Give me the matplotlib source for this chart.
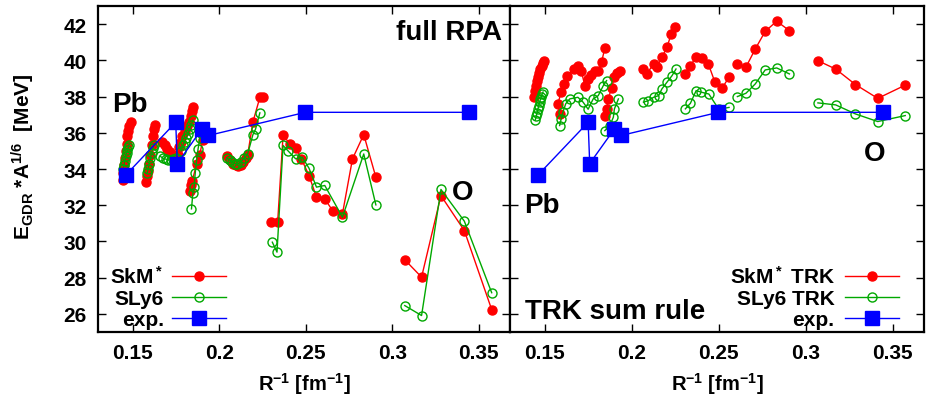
import numpy as np
import matplotlib
matplotlib.use("Agg")
import matplotlib.pyplot as plt

plt.rcParams['font.family'] = ['Liberation Sans', 'DejaVu Sans']
plt.rcParams['font.weight'] = 'bold'
plt.rcParams['mathtext.fontset'] = 'custom'
plt.rcParams['mathtext.rm'] = 'Liberation Sans:bold'
plt.rcParams['mathtext.it'] = 'Liberation Sans:bold'
plt.rcParams['mathtext.bf'] = 'Liberation Sans:bold'

# ---- full RPA (left panel), one sub-list per isotope chain
skm_rpa_x = [
    [0.1443, 0.1447, 0.1451, 0.1455, 0.1460, 0.1465, 0.1470, 0.1476, 0.1482, 0.1488],
    [0.1580, 0.1585, 0.1590, 0.1597, 0.1603, 0.1610, 0.1617, 0.1624, 0.1630],
    [0.1670, 0.1685, 0.1700, 0.1715, 0.1730, 0.1745, 0.1760],
    [0.1770, 0.1778, 0.1788, 0.1800, 0.1812, 0.1825, 0.1835, 0.1843, 0.1850],
    [0.1832, 0.1838, 0.1845, 0.1870, 0.1887, 0.1905, 0.1925],
    [0.2045, 0.2065, 0.2080, 0.2095, 0.2110, 0.2125, 0.2140, 0.2155, 0.2165, 0.2195, 0.2235, 0.2255],
    [0.2302, 0.2338, 0.2369, 0.2408, 0.2442, 0.2475, 0.2519, 0.2562, 0.2610, 0.2658, 0.2712, 0.2770, 0.2835, 0.2905],
    [0.3072, 0.3169, 0.3281, 0.3416, 0.3574],
]
skm_rpa_y = [
    [33.4, 33.8, 34.2, 34.6, 35.0, 35.4, 35.8, 36.1, 36.4, 36.6],
    [33.3, 33.6, 33.9, 34.3, 34.8, 35.3, 35.8, 36.2, 36.45],
    [35.5, 35.3, 35.1, 34.95, 34.8, 34.7, 34.8],
    [35.2, 35.5, 35.8, 36.1, 36.35, 36.6, 36.9, 37.2, 37.45],
    [32.8, 33.1, 33.35, 34.3, 34.75, 35.6, 36.05],
    [34.7, 34.5, 34.3, 34.2, 34.15, 34.2, 34.4, 34.6, 34.8, 36.6, 37.95, 37.95],
    [31.1, 31.1, 35.85, 35.4, 35.15, 34.56, 33.64, 32.44, 32.35, 31.66, 31.52, 34.56, 35.9, 33.55],
    [28.99, 28.03, 32.53, 30.6, 26.24],
]
sly6_rpa_x = [
    [0.1444, 0.1450, 0.1455, 0.1460, 0.1465, 0.1470, 0.1475, 0.1480],
    [0.1585, 0.1590, 0.1596, 0.1603, 0.1610, 0.1617, 0.1624],
    [0.1660, 0.1675, 0.1690, 0.1705, 0.1720, 0.1735, 0.1750],
    [0.1780, 0.1790, 0.1800, 0.1810, 0.1820, 0.1830, 0.1840, 0.1848],
    [0.1840, 0.1848, 0.1855, 0.1862, 0.1870, 0.1878, 0.1888, 0.1895],
    [0.2045, 0.2060, 0.2075, 0.2090, 0.2105, 0.2125, 0.2145, 0.2165, 0.2195, 0.2210, 0.2235],
    [0.2307, 0.2334, 0.2369, 0.2398, 0.2442, 0.2480, 0.2519, 0.2562, 0.2610, 0.2712, 0.2835, 0.2905],
    [0.3072, 0.3169, 0.3281, 0.3416, 0.3574],
]
sly6_rpa_y = [
    [34.0, 34.2, 34.45, 34.7, 34.9, 35.05, 35.2, 35.35],
    [33.8, 34.0, 34.3, 34.6, 34.9, 35.15, 35.35],
    [34.7, 34.6, 34.55, 34.5, 34.5, 34.55, 34.6],
    [35.0, 35.3, 35.5, 35.7, 35.95, 36.2, 36.45, 36.7],
    [31.8, 32.65, 33.0, 33.8, 34.5, 35.1, 35.7, 36.0],
    [34.6, 34.5, 34.4, 34.3, 34.25, 34.4, 34.6, 34.85, 35.9, 36.2, 37.1],
    [29.96, 29.41, 35.3, 35.0, 34.56, 34.65, 34.04, 33.0, 33.09, 31.34, 34.83, 32.02],
    [26.46, 25.91, 32.87, 31.12, 27.17],
]

# ---- TRK sum rule (right panel)
skm_trk_x = [
    [0.1436, 0.1442, 0.1448, 0.1455, 0.1462, 0.1468, 0.1475, 0.1482, 0.1490, 0.1496],
    [0.1585, 0.1575, 0.1594, 0.1612, 0.1630, 0.1665, 0.1690],
    [0.1710, 0.1730, 0.1749, 0.1768, 0.1788, 0.1807, 0.1826, 0.1845],
    [0.1845, 0.1855, 0.1865, 0.1884, 0.1900, 0.1915, 0.1932],
    [0.2067, 0.2086, 0.2125, 0.2144, 0.2173, 0.2202, 0.2227, 0.2250],
    [0.2308, 0.2337, 0.2370, 0.2405, 0.2440, 0.2478, 0.2520, 0.2559],
    [0.2607, 0.2656, 0.2710, 0.2767, 0.2833, 0.2906],
    [0.3070, 0.3172, 0.3286, 0.3414, 0.3572],
]
skm_trk_y = [
    [38.0, 38.3, 38.6, 38.85, 39.1, 39.3, 39.5, 39.7, 39.85, 39.95],
    [37.04, 37.6, 38.24, 38.7, 39.15, 39.5, 39.7],
    [39.4, 38.6, 38.97, 39.2, 39.43, 39.43, 39.9, 40.67],
    [36.9, 37.3, 37.87, 38.5, 39.07, 39.3, 39.43],
    [39.52, 39.25, 39.8, 39.62, 40.17, 40.72, 41.46, 41.82],
    [39.25, 39.7, 40.2, 40.13, 39.8, 38.79, 38.48, 39.07],
    [39.8, 39.62, 40.63, 41.6, 42.16, 41.64],
    [39.98, 39.52, 38.66, 37.9, 38.63],
]
sly6_trk_x = [
    [0.1445, 0.1450, 0.1455, 0.1460, 0.1465, 0.1470, 0.1475, 0.1480, 0.1485, 0.1490],
    [0.1585, 0.1594, 0.1604, 0.1620, 0.1643, 0.1690, 0.1720, 0.1749, 0.1778, 0.1807, 0.1836, 0.1855],
    [0.1845, 0.1874, 0.1894, 0.1900, 0.1923],
    [0.2067, 0.2096, 0.2125, 0.2154, 0.2173, 0.2202, 0.2231, 0.2254],
    [0.2308, 0.2337, 0.2370, 0.2400, 0.2443, 0.2500, 0.2559],
    [0.2607, 0.2656, 0.2710, 0.2767, 0.2833, 0.2906],
    [0.3070, 0.3172, 0.3286, 0.3414, 0.3572],
]
sly6_trk_y = [
    [36.7, 36.9, 37.1, 37.3, 37.5, 37.7, 37.85, 38.0, 38.15, 38.25],
    [36.4, 36.77, 37.13, 37.6, 37.87, 37.96, 37.69, 37.3, 37.87, 38.05, 38.6, 38.88],
    [36.12, 36.4, 36.86, 37.32, 37.87],
    [37.69, 37.78, 37.96, 38.05, 38.42, 38.79, 39.15, 39.52],
    [37.32, 37.63, 38.33, 38.24, 38.14, 37.3, 37.4],
    [38.0, 38.18, 38.7, 39.47, 39.58, 39.25],
    [37.65, 37.54, 37.04, 36.62, 36.95],
]

# ---- experiment
exp_x = [0.1463, 0.1749, 0.1758, 0.1899, 0.1938, 0.2498, 0.3442]
exp_y = [33.69, 36.58, 34.30, 36.20, 35.85, 37.13, 37.13]


def join(chains):
    out = []
    for c in chains:
        out += list(c) + [np.nan]
    return np.array(out[:-1])


RED = '#ff0000'
GREEN = '#00a800'
BLUE = '#0000ff'

fig = plt.figure(figsize=(9.27, 4.02), dpi=100)
ax1 = fig.add_axes([0.1057, 0.1716, 0.4445, 0.811])
ax2 = fig.add_axes([0.5502, 0.1716, 0.4466, 0.811])

panels = [
    (ax1, skm_rpa_x, skm_rpa_y, sly6_rpa_x, sly6_rpa_y, [r'SkM$^*$', 'SLy6', 'exp.']),
    (ax2, skm_trk_x, skm_trk_y, sly6_trk_x, sly6_trk_y, [r'SkM$^*$ TRK', 'SLy6 TRK', 'exp.']),
]

for ax, sx, sy, gx, gy, labels in panels:
    ax.plot(join(sx), join(sy), '-o', color=RED, lw=1, ms=6.5, mec=RED, mfc=RED, label=labels[0])
    ax.plot(join(gx), join(gy), '-o', color=GREEN, lw=1, ms=6.5, mec=GREEN, mfc='none', mew=1.0,
            label=labels[1])
    ax.plot(exp_x, exp_y, '-s', color=BLUE, lw=1, ms=10, mec=BLUE, mfc=BLUE, label=labels[2])

    ax.set_xlim(0.13, 0.368)
    ax.set_ylim(25, 43)
    ax.set_xticks([0.15, 0.2, 0.25, 0.3, 0.35])
    ax.set_xticklabels(['0.15', '0.2', '0.25', '0.3', '0.35'])
    ax.set_yticks(np.arange(26, 43, 2))
    ax.tick_params(direction='in', length=6, width=1, top=True, right=True,
                   labelsize=15, pad=8)
    for s in ax.spines.values():
        s.set_linewidth(1.6)
    ax.set_xlabel(r'R$^{-1}$ [fm$^{-1}$]', fontsize=14.5, fontweight='bold', labelpad=6)

ax2.tick_params(labelleft=False)
ax1.set_ylabel(r'E$_{\rm GDR}$ *A$^{1/6}$  [MeV]', fontsize=15, fontweight='bold', va='center')
ax1.yaxis.set_label_coords(-0.18, 0.54)

leg1 = ax1.legend(loc='lower left', bbox_to_anchor=(0.0, -0.03), markerfirst=False, frameon=False,
                  fontsize=15, handlelength=2.6, handletextpad=0.4, labelspacing=0.1,
                  borderaxespad=0.2)
leg2 = ax2.legend(loc='lower right', bbox_to_anchor=(0.97, -0.03), markerfirst=False, frameon=False,
                  fontsize=15, handlelength=2.6, handletextpad=0.5, labelspacing=0.1,
                  borderaxespad=0.2)
for leg in (leg1, leg2):
    leg._legend_box.align = 'right'

ax1.text(0.98, 0.96, 'full RPA', transform=ax1.transAxes, ha='right', va='top',
         fontsize=20, fontweight='bold')
ax1.text(0.035, 0.70, 'Pb', transform=ax1.transAxes, ha='left', va='center',
         fontsize=20, fontweight='bold')
ax1.text(0.86, 0.43, 'O', transform=ax1.transAxes, ha='left', va='center',
         fontsize=20, fontweight='bold')
ax2.text(0.035, 0.39, 'Pb', transform=ax2.transAxes, ha='left', va='center',
         fontsize=20, fontweight='bold')
ax2.text(0.855, 0.55, 'O', transform=ax2.transAxes, ha='left', va='center',
         fontsize=20, fontweight='bold')
ax2.text(0.035, 0.065, 'TRK sum rule', transform=ax2.transAxes, ha='left', va='center',
         fontsize=20, fontweight='bold')

fig.savefig('out.png', dpi=100)
